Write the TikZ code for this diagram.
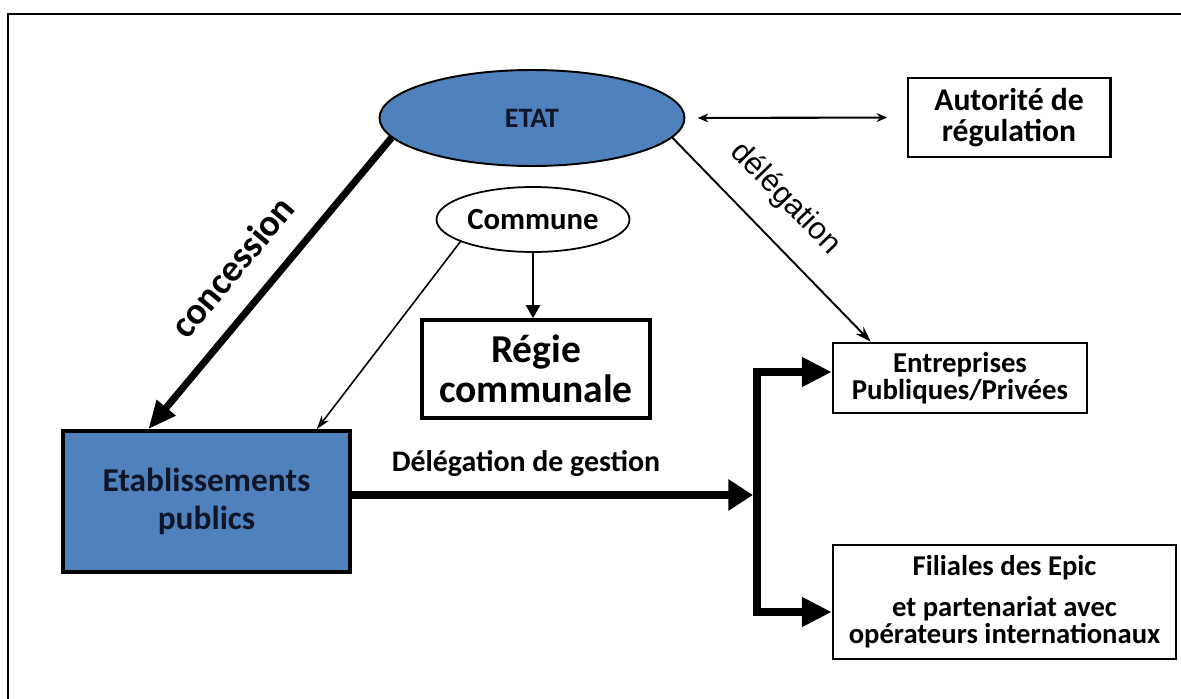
\documentclass[tikz,border=0pt]{standalone}
\usepackage{fontspec}
\setmainfont{Carlito}
\newfontfamily\arialfont{Liberation Sans}
\usetikzlibrary{shapes.geometric,arrows.meta,calc}
\newdimen\pxu \pxu=0.02cm
\definecolor{stateblue}{RGB}{79,129,189}
\definecolor{inkdark}{RGB}{16,22,40}

\begin{document}
\begin{tikzpicture}[x=0.02cm,y=-0.02cm,
  every node/.style={inner sep=0pt, align=center},
  oval/.style={ellipse, draw, line width=1.1pt},
  box/.style={rectangle, draw, line width=1.7pt},
  thinarrow/.style={line width=0.9pt, -{Stealth[length=8pt,width=5pt]}},
  fatarrow/.style={line width=4.5pt, -{Triangle[length=14pt,width=17pt]}},
  busline/.style={line width=4.3pt, line join=miter,
    {Triangle[length=17pt,width=16pt]}-{Triangle[length=17pt,width=16pt]}},
  lbl/.style={font=\fontsize{17}{19}\selectfont\bfseries}
]
\useasboundingbox (0,0) rectangle (1181,699);
\clip (0,0) rectangle (1181,699);
% outer frame
\draw[line width=1.1pt] (8,14) rectangle (1200,720);

% nodes
\node[oval, fill=stateblue, minimum width=305\pxu, minimum height=96\pxu,
  text=inkdark, font=\fontsize{16}{18}\selectfont\bfseries] (etat) at (532,118) {ETAT};
\node[box, minimum width=202\pxu, minimum height=79\pxu,
  font=\fontsize{18}{18}\selectfont\bfseries] (auto) at (1009,117.5) {Autorité de\\régulation};
\node[oval, line width=1pt, minimum width=193\pxu, minimum height=65\pxu,
  font=\fontsize{17.5}{20}\selectfont\bfseries] (commune) at (533,219.5) {Commune};
\node[box, line width=2pt, minimum width=228\pxu, minimum height=98\pxu,
  font=\fontsize{22.5}{22.7}\selectfont\bfseries] (regie) at (536,369) {Régie\\communale};
\node[box, line width=2pt, fill=stateblue, minimum width=287\pxu, minimum height=141\pxu,
  text=inkdark, font=\fontsize{19}{21.5}\selectfont\bfseries] (etab) at (206.5,501.5) {Etablissements\\publics};
\node[box, line width=1.5pt, minimum width=254\pxu, minimum height=70\pxu,
  font=\fontsize{16.4}{15.3}\selectfont\bfseries] (entr) at (960,378) {Entreprises\\Publiques/Privées};
\node[box, line width=1.5pt, minimum width=343\pxu, minimum height=114\pxu,
  font=\fontsize{16.3}{15.3}\selectfont\bfseries] (fil) at (1004.5,602)
  {Filiales des Epic\\[8pt]et partenariat avec\\opérateurs internationaux};

% connectors
\draw[line width=1.2pt, {Stealth[length=6pt,width=5pt]}-{Stealth[length=6pt,width=5pt]},
  shorten <=7pt, shorten >=11pt] (etat.east) -- (auto.west);

\draw[line width=4pt, -{Triangle[length=16pt,width=13pt]}]
  (etat.188) -- ([xshift=87\pxu]etab.north west)
  node[pos=.53, sloped, above=13pt, font=\fontsize{21.5}{24}\selectfont\bfseries] {concession};

\draw[thinarrow] (commune.197) -- ([xshift=-35\pxu]etab.north east);

\draw[line width=1.4pt, -{Triangle[length=7.5pt,width=8pt]}]
  (commune.south) -- (commune.south |- regie.north);

\draw[line width=1.1pt, -{Stealth[length=9pt,width=6pt]}]
  (etat.-8) -- ([xshift=39\pxu]entr.north west)
  node[pos=.43, sloped, above=13pt, font=\arialfont\fontsize{17.6}{20}\selectfont] {délégation};

\coordinate (hub) at (757,495);
\draw[fatarrow, shorten >=2.3pt] ([yshift=6.5\pxu]etab.east) -- (hub)
  node[pos=.43, above=8pt, lbl] {Délégation de gestion};

\draw[busline] ([yshift=6\pxu]entr.west) -| (hub) |- ([yshift=-10\pxu]fil.west);
\end{tikzpicture}
\end{document}
